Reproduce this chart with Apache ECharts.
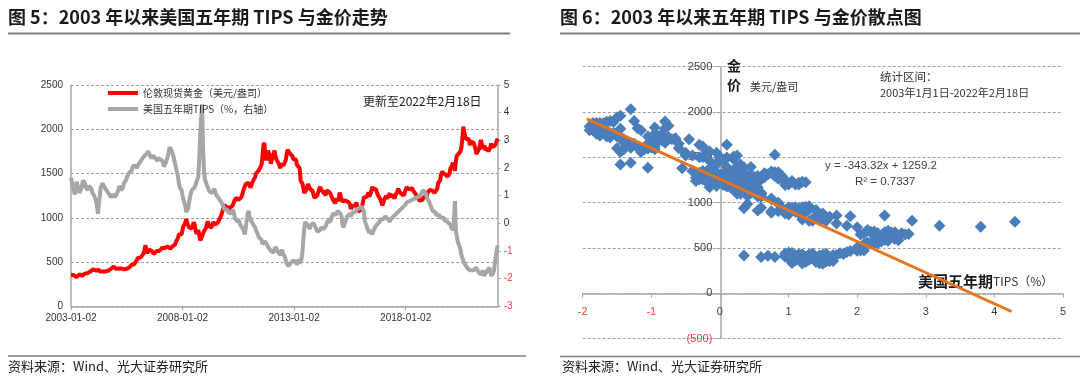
<!DOCTYPE html>
<html>
<head>
<meta charset="utf-8">
<script src="https://cdn.jsdelivr.net/npm/echarts@6/dist/echarts.min.js"></script>
<style>
html,body{margin:0;padding:0;background:#fff;}
#main{width:1080px;height:378px;}
</style>
</head>
<body>
<div id="main"></div>
<script>
var FONT = "'Liberation Sans','Noto Sans CJK SC',sans-serif";
var CJK = "'Noto Sans CJK SC','Liberation Sans',sans-serif";

//半月度数据 2003-01 ~ 2022-02, 每月两个点(月初/月中)
var startYear = 2003;
var pointCount = 460;
//显示刻度的索引: 2003-01-02, 2008-01-02, 2013-01-02, 2018-01-02
var labelIndex = [0, 120, 240, 360];

//伦敦现货黄金(美元/盎司)
var goldPrice = [
	356,368, 372,352, 336,330, 328,332, 348,362, 356,348, 346,352, 358,370, 380,382, 375,385, 390,396, 405,412,
	418,408, 404,402, 400,418, 416,392, 380,390, 392,394, 400,394, 400,408, 402,408, 418,424, 434,446, 450,440,
	425,424, 420,428, 440,430, 428,432, 424,418, 428,436, 424,424, 434,442, 455,468, 470,472, 474,488, 510,505,
	545,560, 555,553, 552,572, 595,630, 690,670, 600,585, 640,630, 640,625, 610,590, 580,595, 625,630, 630,625,
	620,645, 660,675, 650,660, 680,682, 675,660, 655,650, 662,675, 670,662, 700,730, 745,770, 810,800, 800,815,
	870,905, 905,945, 985,940, 915,890, 880,900, 880,900, 950,925, 860,820, 800,860, 860,745, 735,790, 800,850,
	845,880, 920,960, 930,920, 885,895, 910,950, 955,935, 925,945, 950,948, 990,1000, 1040,1045, 1110,1150, 1150,1105,
	1135,1100, 1075,1110, 1120,1105, 1140,1160, 1200,1215, 1225,1240, 1200,1180, 1205,1230, 1255,1295, 1330,1350, 1380,1360, 1390,1395,
	1370,1340, 1360,1395, 1420,1425, 1460,1500, 1500,1520, 1535,1520, 1550,1600, 1700,1820, 1850,1700, 1650,1700, 1760,1720, 1680,1610,
	1620,1700, 1730,1760, 1690,1660, 1650,1650, 1600,1560, 1600,1590, 1590,1600, 1610,1650, 1720,1770, 1770,1730, 1720,1725, 1700,1665,
	1670,1675, 1660,1600, 1590,1605, 1560,1420, 1440,1385, 1380,1280, 1260,1320, 1310,1380, 1370,1330, 1310,1325, 1300,1255, 1225,1225,
	1235,1255, 1275,1325, 1350,1320, 1300,1295, 1295,1275, 1255,1310, 1330,1300, 1290,1300, 1250,1220, 1220,1230, 1165,1190, 1220,1190,
	1215,1285, 1250,1210, 1185,1170, 1200,1195, 1190,1210, 1180,1180, 1155,1100, 1100,1135, 1120,1130, 1140,1175, 1110,1070, 1070,1065,
	1090,1105, 1170,1230, 1250,1240, 1235,1250, 1285,1240, 1260,1300, 1350,1325, 1345,1335, 1325,1325, 1260,1265, 1270,1205, 1170,1140,
	1170,1210, 1230,1245, 1215,1245, 1260,1275, 1230,1260, 1270,1250, 1220,1255, 1270,1295, 1330,1300, 1285,1275, 1280,1285, 1255,1280,
	1320,1345, 1330,1330, 1320,1330, 1335,1335, 1310,1295, 1295,1265, 1250,1225, 1210,1195, 1200,1200, 1200,1230, 1225,1220, 1240,1265,
	1290,1295, 1315,1325, 1295,1305, 1290,1280, 1285,1285, 1330,1395, 1410,1420, 1480,1520, 1510,1505, 1495,1495, 1480,1465, 1470,1495,
	1550,1565, 1570,1620, 1640,1530, 1640,1700, 1710,1725, 1720,1750, 1800,1900, 2030,1960, 1940,1890, 1900,1890, 1890,1820, 1860,1875,
	1880,1850, 1830,1780, 1720,1730, 1740,1780, 1830,1880, 1880,1780, 1800,1815, 1760,1790, 1790,1750, 1765,1790, 1840,1800, 1785,1800,
	1815,1820, 1830,1895
];

//美国五年期TIPS(%)
var tips5y = [
	1.65,1.50, 1.30,1.20, 1.05,1.20, 1.50,1.45, 1.25,1.10, 1.05,1.25, 1.40,1.55, 1.60,1.45, 1.30,1.25, 1.20,1.35, 1.40,1.30, 1.25,1.10,
	1.05,1.00, 0.95,0.80, 0.60,0.35, 0.70,1.00, 1.30,1.35, 1.45,1.35, 1.35,1.30, 1.20,1.15, 1.10,1.05, 1.05,0.95, 1.00,1.05, 1.00,0.95,
	1.00,1.05, 1.10,1.20, 1.35,1.30, 1.20,1.15, 1.30,1.45, 1.50,1.55, 1.65,1.70, 1.80,1.75, 1.85,1.90, 2.00,2.05, 2.10,2.05, 2.05,2.00,
	2.10,2.15, 2.20,2.25, 2.30,2.35, 2.40,2.45, 2.45,2.50, 2.55,2.60, 2.55,2.45, 2.40,2.35, 2.45,2.40, 2.45,2.35, 2.30,2.25, 2.35,2.40,
	2.40,2.30, 2.30,2.20, 2.05,2.10, 2.20,2.25, 2.40,2.55, 2.75,2.70, 2.65,2.55, 2.45,2.30, 2.15,2.00, 1.85,1.70, 1.45,1.30, 1.35,1.20,
	1.00,0.85, 0.75,0.60, 0.40,0.35, 0.55,0.75, 0.95,1.10, 1.20,1.25, 1.20,1.30, 1.40,1.50, 1.55,1.70, 2.40,3.20, 3.80,4.30, 2.80,1.90,
	1.60,1.50, 1.40,1.30, 1.25,1.15, 1.15,1.15, 1.10,1.10, 1.25,1.15, 1.05,1.05, 1.00,0.90, 0.85,0.85, 0.75,0.75, 0.60,0.50, 0.45,0.55,
	0.50,0.40, 0.40,0.45, 0.35,0.40, 0.50,0.40, 0.25,0.15, 0.15,0.05, 0.15,0.10, -0.05,-0.10, -0.10,-0.20, -0.30,-0.40, -0.15,0.10, 0.35,0.45,
	0.25,0.15, 0.20,0.10, -0.05,-0.05, -0.15,-0.25, -0.30,-0.40, -0.50,-0.50, -0.50,-0.60, -0.75,-0.80, -0.75,-0.65, -0.60,-0.70, -0.85,-0.90, -0.90,-1.00,
	-0.95,-1.00, -1.05,-0.95, -0.85,-0.80, -1.00,-1.05, -1.05,-1.15, -1.05,-0.95, -1.10,-1.15, -1.20,-1.25, -1.45,-1.50, -1.55,-1.50, -1.45,-1.45, -1.40,-1.35,
	-1.40,-1.35, -1.40,-1.50, -1.40,-1.30, -1.45,-1.45, -1.30,-1.05, -0.55,-0.15, 0.05,0.10, -0.05,-0.10, -0.10,-0.20, -0.05,-0.10, 0.00,0.00, -0.05,-0.15,
	-0.20,-0.30, -0.35,-0.35, -0.25,-0.15, -0.10,-0.10, -0.20,-0.20, -0.10,0.00, 0.10,0.10, 0.05,0.05, 0.20,0.25, 0.35,0.30, 0.30,0.30, 0.35,0.45,
	0.50,0.45, 0.35,0.25, -0.05,-0.15, -0.05,0.05, 0.15,0.25, 0.20,0.30, 0.35,0.25, 0.30,0.40, 0.45,0.35, 0.40,0.50, 0.45,0.55, 0.55,0.60,
	0.60,0.60, 0.55,0.45, 0.10,0.00, -0.10,-0.20, -0.25,-0.35, -0.25,-0.30, -0.40,-0.30, -0.25,-0.15, -0.15,-0.05, 0.00,0.00, 0.05,0.15, 0.20,0.20,
	0.15,0.20, 0.25,0.30, 0.25,0.15, 0.10,0.05, 0.15,0.20, 0.20,0.25, 0.30,0.30, 0.35,0.30, 0.35,0.45, 0.50,0.50, 0.55,0.55, 0.60,0.65,
	0.65,0.75, 0.75,0.80, 0.80,0.75, 0.80,0.85, 0.85,0.90, 0.90,0.85, 0.95,0.95, 1.00,0.95, 1.00,1.10, 1.15,1.20, 1.25,1.15, 1.05,0.90,
	0.90,0.80, 0.70,0.65, 0.55,0.45, 0.40,0.45, 0.40,0.30, 0.30,0.25, 0.30,0.30, 0.20,0.25, 0.20,0.20, 0.10,0.10, 0.05,0.05, 0.00,0.00,
	-0.05,-0.15, -0.20,-0.25, 0.10,0.80, -0.30,-0.45, -0.65,-0.75, -0.85,-0.95, -1.15,-1.25, -1.30,-1.45, -1.50,-1.55, -1.60,-1.65, -1.65,-1.70, -1.70,-1.70,
	-1.75,-1.70, -1.75,-1.65, -1.60,-1.65, -1.75,-1.70, -1.80,-1.85, -1.80,-1.70, -1.90,-1.85, -1.80,-1.75, -1.70,-1.65, -1.60,-1.65, -1.90,-1.85, -1.80,-1.70,
	-1.45,-1.20, -0.95,-0.80
];

//散点图趋势线两端
var trendX = [-1.94, 4.25];
var trendY = [1925, -200];

//日期类目
var dates = [];
for (var i = 0; i < pointCount; i++) {
	var mi = Math.floor(i / 2);
	var y = startYear + Math.floor(mi / 12);
	var m = mi % 12 + 1;
	dates.push(y + '-' + (m < 10 ? '0' + m : m) + (i % 2 ? '-16' : '-02'));
}
var scatterData = tips5y.map(function(t, i) {
	return [t, goldPrice[i]];
});
var trendData = trendX.map(function(x, i) {
	return [x, trendY[i]];
});

var showLabel = function(idx) {
	return labelIndex.indexOf(idx) >= 0;
};
var negRed = function(v) {
	return Number(v) < 0 ? '#ff3b3b' : '#404040';
};

var chart = echarts.init(document.getElementById('main'));
var option = {
	animation: false,
	textStyle: { fontFamily: FONT },
	grid: [
		{ left: 71, top: 85, width: 426.7, height: 221.3 },
		{ left: 582.7, top: 66.7, width: 480.3, height: 272 }
	],
	legend: {
		orient: 'vertical',
		left: 103,
		top: 83,
		itemWidth: 30,
		itemHeight: 4,
		itemGap: 6,
		icon: 'rect',
		textStyle: { fontSize: 10, color: '#333', fontFamily: CJK },
		data: ['伦敦现货黄金（美元/盎司）', '美国五年期TIPS（%，右轴）']
	},
	xAxis: [{
		gridIndex: 0,
		type: 'category',
		data: dates,
		boundaryGap: false,
		axisLine: { lineStyle: { color: '#a6a6a6', width: 1.5 } },
		axisTick: { interval: showLabel, length: 4, lineStyle: { color: '#a6a6a6' } },
		axisLabel: { interval: showLabel, fontSize: 10, color: '#333', margin: 7 }
	}, {
		gridIndex: 1,
		type: 'value',
		position: 'bottom',
		offset: -45,
		min: -2,
		max: 5,
		interval: 1,
		axisLine: { show: true, onZero: false, lineStyle: { color: '#a6a6a6', width: 1.5 } },
		axisTick: { show: true, length: 4, lineStyle: { color: '#a6a6a6' } },
		axisLabel: { fontSize: 11, margin: 13, color: negRed },
		splitLine: { show: false }
	}],
	yAxis: [{
		gridIndex: 0,
		type: 'value',
		min: 0,
		max: 2500,
		interval: 500,
		axisLine: { show: true, lineStyle: { color: '#a6a6a6', width: 1.5 } },
		axisTick: { show: false },
		axisLabel: { fontSize: 10, color: '#333', margin: 8, formatter: function(v) { return String(v); } },
		splitLine: { lineStyle: { color: '#a0a0a0', type: [3, 2] } }
	}, {
		gridIndex: 0,
		type: 'value',
		position: 'right',
		min: -3,
		max: 5,
		interval: 1,
		axisLine: { show: true, lineStyle: { color: '#a6a6a6', width: 1.5 } },
		axisTick: { show: true, length: 3, lineStyle: { color: '#a6a6a6' } },
		axisLabel: { fontSize: 10, margin: 6, color: function(v) { return Number(v) < 0 ? '#ff3b3b' : '#333'; } },
		splitLine: { show: false }
	}, {
		gridIndex: 1,
		type: 'value',
		position: 'left',
		offset: -137.6,
		min: -500,
		max: 2500,
		interval: 500,
		axisLine: { show: true, onZero: false, lineStyle: { color: '#a6a6a6', width: 1.5 } },
		axisTick: { show: true, length: 4, lineStyle: { color: '#a6a6a6' } },
		axisLabel: {
			fontSize: 11,
			margin: 8,
			color: negRed,
			formatter: function(v) { return v < 0 ? '(' + (-v) + ')' : String(v); }
		},
		splitLine: { lineStyle: { color: '#a0a0a0', type: [3, 2] } }
	}],
	series: [{
		name: '伦敦现货黄金（美元/盎司）',
		type: 'line',
		xAxisIndex: 0,
		yAxisIndex: 0,
		data: goldPrice,
		symbol: 'none',
		color: '#ff0000',
		lineStyle: { width: 4, color: '#ff0000' }
	}, {
		name: '美国五年期TIPS（%，右轴）',
		type: 'line',
		xAxisIndex: 0,
		yAxisIndex: 1,
		data: tips5y,
		symbol: 'none',
		color: '#a6a6a6',
		lineStyle: { width: 4, color: '#a6a6a6' }
	}, {
		name: '散点',
		type: 'scatter',
		xAxisIndex: 1,
		yAxisIndex: 2,
		data: scatterData,
		symbol: 'diamond',
		symbolSize: 12,
		itemStyle: { color: '#4a7ebb', opacity: 1 }
	}, {
		name: '趋势线',
		type: 'line',
		xAxisIndex: 1,
		yAxisIndex: 2,
		data: trendData,
		symbol: 'none',
		z: 5,
		lineStyle: { width: 3, color: '#e8731b' }
	}],
	graphic: [
		{ type: 'text', style: { x: 8, y: 17, text: '图 5：2003 年以来美国五年期 TIPS 与金价走势', font: 'bold 18px ' + CJK, fill: '#1a1a1a', verticalAlign: 'middle' } },
		{ type: 'line', shape: { x1: 8, y1: 33.5, x2: 510, y2: 33.5 }, style: { stroke: '#7f7f7f', lineWidth: 2 } },
		{ type: 'text', style: { x: 560, y: 17, text: '图 6：2003 年以来五年期 TIPS 与金价散点图', font: 'bold 18px ' + CJK, fill: '#1a1a1a', verticalAlign: 'middle' } },
		{ type: 'line', shape: { x1: 560, y1: 33.5, x2: 1080, y2: 33.5 }, style: { stroke: '#7f7f7f', lineWidth: 2 } },
		{ type: 'line', shape: { x1: 8, y1: 356, x2: 526, y2: 356 }, style: { stroke: '#7f7f7f', lineWidth: 1.5 } },
		{ type: 'text', style: { x: 8, y: 366, text: '资料来源：Wind、光大证券研究所', font: '13px ' + CJK, fill: '#222', verticalAlign: 'middle' } },
		{ type: 'line', shape: { x1: 560, y1: 356.5, x2: 1080, y2: 356.5 }, style: { stroke: '#7f7f7f', lineWidth: 1.5 } },
		{ type: 'text', style: { x: 562, y: 366, text: '资料来源：Wind、光大证券研究所', font: '13px ' + CJK, fill: '#222', verticalAlign: 'middle' } },
		{ type: 'text', style: { x: 363, y: 101, text: '更新至2022年2月18日', font: '12px ' + CJK, fill: '#1a1a1a', verticalAlign: 'middle' } },
		{ type: 'text', style: { x: 727, y: 66, text: '金', font: 'bold 14px ' + CJK, fill: '#1a1a1a', verticalAlign: 'middle' } },
		{ type: 'text', style: { x: 727, y: 85, text: '价', font: 'bold 14px ' + CJK, fill: '#1a1a1a', verticalAlign: 'middle' } },
		{ type: 'text', style: { x: 750, y: 87, text: '美元/盎司', font: '11px ' + CJK, fill: '#333', verticalAlign: 'middle' } },
		{ type: 'text', style: { x: 880, y: 77, text: '统计区间：', font: '11.5px ' + CJK, fill: '#333', verticalAlign: 'middle' } },
		{ type: 'text', style: { x: 880, y: 93, text: '2003年1月1日-2022年2月18日', font: '11px ' + CJK, fill: '#333', verticalAlign: 'middle' } },
		{ type: 'text', style: { x: 825, y: 166, text: 'y = -343.32x + 1259.2', font: '11.5px ' + FONT, fill: '#404040', verticalAlign: 'middle' } },
		{ type: 'text', style: { x: 855, y: 182, text: 'R² = 0.7337', font: '11.5px ' + FONT, fill: '#404040', verticalAlign: 'middle' } },
		{
			type: 'text',
			style: {
				x: 918, y: 281,
				text: '{a|美国五年期}{b|TIPS（%）}',
				verticalAlign: 'middle',
				rich: {
					a: { font: 'bold 15px ' + CJK, fill: '#1a1a1a', color: '#1a1a1a' },
					b: { font: '12px ' + CJK, fill: '#333', color: '#333' }
				}
			}
		}
	]
};
chart.setOption(option);
</script>
</body>
</html>
